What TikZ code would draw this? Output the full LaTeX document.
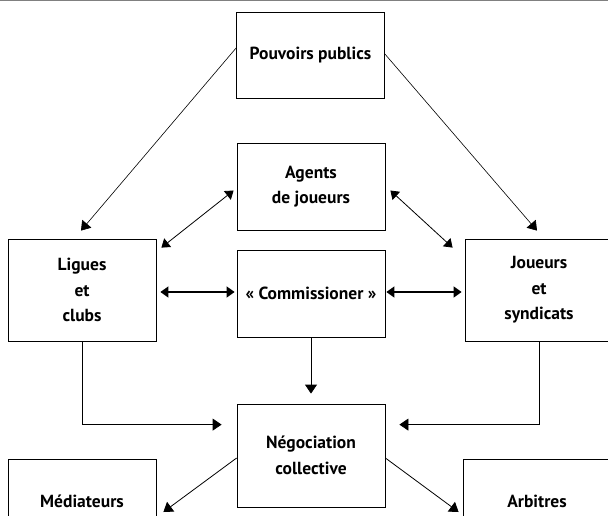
\documentclass[tikz,border=0pt]{standalone}
\usepackage{fontspec}
\setmainfont{PT Sans}
\usetikzlibrary{arrows.meta,positioning,calc}
\tikzset{
  actor/.style={draw,line width=0.8pt,minimum width=148pt,align=center,
    font=\bfseries\fontsize{17.5}{25.5}\selectfont},
  flow/.style={-{Triangle[length=9pt,width=12pt]},line width=0.8pt},
  link/.style={{Triangle[length=8pt,width=11pt]}-{Triangle[length=8pt,width=11pt]},line width=1.4pt}
}

\begin{document}
\begin{tikzpicture}[x=1pt,y=-1pt]
  \useasboundingbox (0,0) rectangle (608,515);
  \draw[gray,line width=1pt] (0,0.5) -- (608,0.5);
  \node[actor,minimum height=86pt] (pp) at (310.5,55) {Pouvoirs publics};
  \node[actor,minimum height=87pt] (ag) at (311,186.5) {Agents\\de joueurs};
  \node[actor,minimum height=102pt] (lc) at (82,290) {Ligues\\et\\clubs};
  \node[actor,minimum height=87pt] (cm) at (311,293.5) {«~Commissioner~»};
  \node[actor,minimum height=102pt] (js) at (539,290) {Joueurs\\et\\syndicats};
  \node[actor,minimum height=103pt] (nc) at (311,455.5) {Négociation\\collective};
  \node[actor,minimum height=84pt] (md) at (82,501) {Médiateurs};
  \node[actor,minimum height=84pt] (ar) at (537,501) {Arbitres};
  \draw[flow,line width=0.6pt] ($(pp.west)+(0,-7)$) -- ($(lc.north)+(-1,-8)$);
  \draw[flow,line width=0.6pt] ($(pp.east)+(0,-1)$) -- ($(js.north)+(-2,-8)$);
  \draw[link,line width=0.8pt] ($(ag.west)+(-3,4)$) -- ($(lc.north east)+(5,9)$);
  \draw[link,line width=0.8pt] ($(ag.east)+(5,4)$) -- ($(js.north west)+(-12,9)$);
  \draw[link] ($(lc.east)+(4,2)$) -- ($(cm.west)+(-2,-1.5)$);
  \draw[link] ($(cm.east)+(1,-1.5)$) -- ($(js.west)+(-3,2)$);
  \draw[flow,shorten >=10pt] (cm.south) -- (nc.north);
  \draw[flow] (lc.south) |- ($(nc.north west)+(-15,21)$);
  \draw[flow] (js.south) |- ($(nc.north east)+(14,21)$);
  \draw[flow] ($(nc.west)+(0,2.5)$) -- ($(md.east)+(7,11)$);
  \draw[flow] ($(nc.east)+(0,2.5)$) -- ($(ar.west)+(-4,11)$);
\end{tikzpicture}
\end{document}
